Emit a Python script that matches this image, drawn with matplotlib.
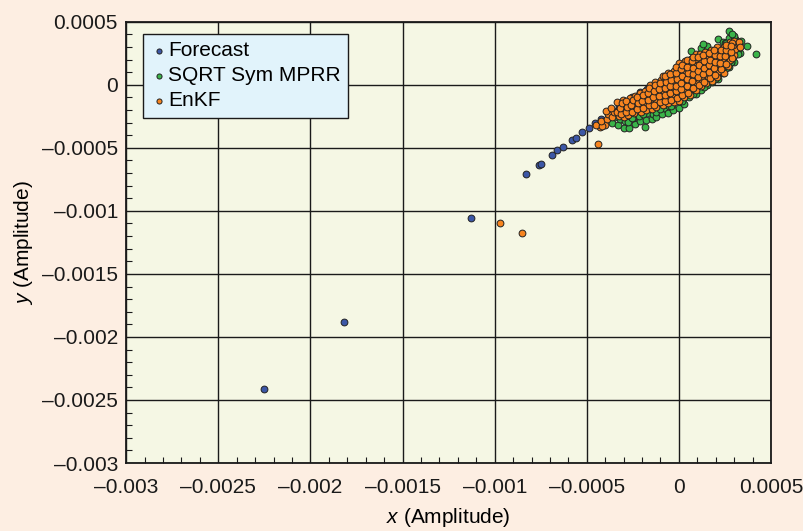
import numpy as np
import matplotlib
matplotlib.use("Agg")
import matplotlib.pyplot as plt
from matplotlib.ticker import MultipleLocator, FuncFormatter

plt.rcParams['font.family'] = ['Liberation Sans', 'DejaVu Sans']
plt.rcParams['mathtext.fontset'] = 'custom'
plt.rcParams['mathtext.it'] = 'Liberation Sans:italic'
plt.rcParams['mathtext.rm'] = 'Liberation Sans'

# all values in units of 1e-4 (amplitude)
forecast_x = [-22.5, -18.2, -11.3, -8.3, -7.6, -7.5, -6.9, -6.6, -6.3, -5.8, -5.6, -5.25,
              -4.9, -4.55, -4.25, -3.8, -3.55, -3.25, -2.55, -2.1, -1.75, -1.5, -0.8, 0.0, 0.7, 1.5]
forecast_y = [-24.1, -18.8, -10.6, -7.1, -6.35, -6.25, -5.55, -5.2, -4.9, -4.4, -4.2, -3.75,
              -3.4, -3.05, -2.7, -2.3, -2.05, -1.7, -1.0, -0.55, -0.3, -0.9, -0.4, 0.1, 0.7, 1.2]

sqrt_x = [-3.62, -3.47, -3.28, -3.22, -2.97, -2.93, -3.07, -2.70, -2.78, -2.63, -2.41, -2.47,
          -2.33, -2.12, -2.17, -2.04, -1.83, -1.78, -1.74, -1.86, -1.48, -1.43, -1.57, -1.22,
          -1.26, -1.13, -0.92, -0.83, -0.97, -0.60, -0.54, -0.67, -0.31, -0.36, -0.23, -0.02,
          0.06, -0.05, 0.30, 0.24, 0.36, 0.56, 0.66, 0.58, 0.91, 0.96, 0.84, 1.21, 1.14, 1.27,
          1.20, 1.52, 1.44, 1.57, 1.50, 1.80, 1.87, 1.74, 2.10, 2.16, 2.03, 2.10, 2.40, 2.46,
          2.33, 2.40, 2.70, 2.77, 2.64, 2.70, 3.00, 2.94, 3.06, 3.00, 3.30, 3.24, 3.36, 3.69,
          4.18, 2.70, 2.89, 1.32, 0.63, 0.33, 2.50, 2.81, 2.84, 3.18, 2.53,
          -1.05, -0.45, 0.15, 0.75, 1.35, 1.95, 2.55, -2.55, -1.95]
sqrt_y = [-3.05, -2.52, -3.18, -2.74, -3.39, -2.86, -2.42, -3.39, -2.93, -2.44, -3.08, -2.62,
          -2.16, -2.88, -2.47, -2.04, -3.33, -2.83, -2.27, -1.84, -2.72, -2.28, -1.83, -2.58,
          -2.13, -1.62, -2.33, -1.87, -1.43, -2.20, -1.72, -1.24, -2.03, -1.52, -1.04, -1.82,
          -1.27, -0.83, -1.52, -1.03, -0.54, -0.93, -0.68, -0.22, -0.72, -0.27, 0.18, -0.43, 0.04,
          0.48, 2.90, -0.02, 0.42, 0.88, 3.10, 0.22, 0.68, 1.23, 0.48, 0.93, 1.37, 3.60, 0.92,
          1.28, 1.83, 3.40, 1.42, 1.78, 2.23, 3.70, 1.80, 2.24, 3.60, 3.90, 2.50, 2.92, 3.50,
          3.07, 2.48, 4.26, 4.02, 3.25, 2.72, 1.80, 3.30, 1.80, 1.77, 2.48, 3.28,
          -1.95, -1.65, -1.25, -0.75, -0.2, 0.45, 1.3, -2.65, -2.3]

enkf_x = [-9.7, -8.5, -4.4, -4.27, -4.0,
          -4.52, -4.18, -4.24, -3.93, -3.84, -3.97, -3.62, -3.55, -3.68,
          -3.27, -3.38, -3.22, -3.34, -2.96, -3.08, -2.93, -3.02,
          -2.74, -2.62, -2.78, -2.66, -2.43, -2.32, -2.47, -2.38,
          -2.06, -2.18, -2.03, -2.12, -1.78, -1.88, -1.72, -1.83,
          -1.47, -1.56, -1.44, -1.52, -1.58, -1.22, -1.27, -1.13, -1.18, -1.29,
          -0.88, -0.97, -0.83, -0.92, -0.96, -0.84, -0.61, -0.67, -0.53, -0.62, -0.66, -0.57,
          -0.27, -0.36, -0.24, -0.33, -0.37, -0.26,
          0.02, 0.06, -0.04, 0.01, 0.07, -0.06, 0.03, 0.28, 0.36, 0.24, 0.31, 0.37, 0.22, 0.33,
          0.62, 0.66, 0.54, 0.58, 0.67, 0.56, 0.63, 0.91, 0.96, 0.84, 0.93, 0.97, 0.86, 0.90,
          1.22, 1.26, 1.14, 1.19, 1.27, 1.16, 1.48, 1.56, 1.43, 1.52, 1.57, 1.44,
          1.82, 1.86, 1.74, 1.79, 1.87, 1.76, 2.08, 2.16, 2.04, 2.13, 2.17, 2.06,
          2.42, 2.46, 2.34, 2.39, 2.47, 2.68, 2.76, 2.64, 2.73, 2.77,
          2.97, 3.04, 2.94, 3.00, 3.26, 3.31, 2.89,
          -3.13, -3.18, -3.11, -2.87, -2.82, -2.89, -2.53, -2.58, -2.51,
          -2.27, -2.22, -2.26, -1.93, -1.98, -1.96, -1.63, -1.68, -1.66, -1.62,
          -1.33, -1.38, -1.36, -1.32, -1.03, -1.08, -1.06, -1.02,
          -0.73, -0.78, -0.76, -0.72, -0.77, -0.43, -0.48, -0.46, -0.42, -0.47,
          -0.13, -0.18, -0.16, -0.12, -0.17, -0.14, 0.17, 0.12, 0.14, 0.18, 0.13, 0.16,
          0.47, 0.42, 0.44, 0.48, 0.43, 0.46, 0.77, 0.72, 0.74, 0.78, 0.73, 0.76,
          1.07, 1.02, 1.04, 1.08, 1.03, 1.37, 1.32, 1.34, 1.38, 1.33,
          1.67, 1.62, 1.64, 1.68, 1.63, 1.97, 1.92, 1.94, 1.98, 1.93,
          2.27, 2.22, 2.24, 2.28, 2.57, 2.52, 2.54, 2.58, 2.87, 2.82, 2.84]
enkf_y = [-11.0, -11.75, -4.7, -3.33, -3.17,
          -3.15, -3.25, -2.85, -2.72, -2.35, -2.05, -2.55, -2.18, -1.85,
          -2.45, -2.12, -1.62, -1.36, -2.58, -1.94, -1.65, -1.18,
          -2.36, -1.95, -1.42, -1.04, -2.27, -1.75, -1.36, -0.85,
          -2.15, -1.58, -1.14, -0.63, -1.96, -1.53, -0.96, -0.47,
          -1.88, -1.37, -0.94, -0.36, 0.02, -1.74, -1.16, -0.72, -0.25, 0.22,
          -1.63, -1.06, -0.64, -0.08, 0.38, 0.70, -1.45, -1.04, -0.46, 0.04, 0.47, 0.93,
          -1.38, -0.86, -0.43, 0.13, 0.58, 1.08,
          -1.26, -0.83, -0.27, 0.24, 0.68, 1.23, 1.72, -0.97, -0.54, 0.04, 0.47, 1.03, 1.46, 1.88,
          -0.77, -0.33, 0.23, 0.66, 1.17, 1.73, 2.08, -0.43, 0.13, 0.57, 1.12, 1.58, 2.06, 2.43,
          -0.08, 0.37, 0.93, 1.38, 1.87, 2.42, 0.12, 0.63, 1.08, 1.62, 2.07, 2.58,
          0.27, 0.83, 1.27, 1.83, 2.27, 2.77, 0.62, 1.07, 1.63, 2.08, 2.63, 2.97,
          0.97, 1.53, 1.98, 2.52, 2.96, 1.52, 1.97, 2.53, 2.96, 3.38,
          2.36, 2.82, 3.18, 3.46, 3.36, 2.98, 3.31,
          -2.32, -1.83, -1.47, -2.18, -1.77, -1.28, -2.12, -1.58, -1.17,
          -1.93, -1.42, -0.93, -1.82, -1.28, -0.82, -1.63, -1.17, -0.68, -0.27,
          -1.57, -0.98, -0.52, -0.03, -1.38, -0.92, -0.33, 0.12,
          -1.32, -0.78, -0.28, 0.23, 0.72, -1.18, -0.67, -0.13, 0.37, 0.83,
          -1.07, -0.53, -0.07, 0.47, 0.93, 1.38, -0.83, -0.37, 0.17, 0.68, 1.27, 1.58,
          -0.62, -0.08, 0.43, 0.97, 1.43, 1.93, -0.28, 0.33, 0.87, 1.33, 1.87, 2.23,
          0.02, 0.58, 1.12, 1.58, 2.22, 0.23, 0.82, 1.33, 1.87, 2.33,
          0.52, 1.03, 1.57, 1.98, 2.52, 0.78, 1.32, 1.83, 2.37, 2.78,
          1.22, 1.73, 2.32, 2.78, 1.68, 2.27, 2.73, 3.17, 2.12, 2.63, 3.07]

scale = 1e-4
fig = plt.figure(figsize=(8.04, 5.31), dpi=100, facecolor='#fdeee2')
ax = fig.add_axes([0.157, 0.128, 0.802, 0.831])
ax.set_facecolor('#f5f7e4')

kw = dict(s=24, edgecolors='#222222', linewidths=0.7, zorder=3)
ax.scatter(np.array(forecast_x) * scale, np.array(forecast_y) * scale, c='#3c57a6', label='Forecast', **kw)
ax.scatter(np.array(sqrt_x) * scale, np.array(sqrt_y) * scale, c='#3bb44a', label='SQRT Sym MPRR', **kw)
ax.scatter(np.array(enkf_x) * scale, np.array(enkf_y) * scale, c='#f7841f', label='EnKF', **kw)

ax.set_xlim(-0.003, 0.0005)
ax.set_ylim(-0.003, 0.0005)
ax.xaxis.set_major_locator(MultipleLocator(0.0005))
ax.yaxis.set_major_locator(MultipleLocator(0.0005))
ax.xaxis.set_minor_locator(MultipleLocator(0.0001))
ax.yaxis.set_minor_locator(MultipleLocator(0.0001))

def fmt(v, pos):
    if abs(v) < 1e-12:
        return '0'
    s = ('%.4f' % v).rstrip('0')
    return s.replace('-', '\u2013')

ax.xaxis.set_major_formatter(FuncFormatter(fmt))
ax.yaxis.set_major_formatter(FuncFormatter(fmt))

ax.grid(True, which='major', color='#1a1a1a', linewidth=1.0, zorder=1)
ax.set_axisbelow(True)
ax.tick_params(which='both', direction='in', labelsize=15, colors='#1a1a1a')
ax.tick_params(which='major', length=0)
ax.tick_params(axis='x', which='major', pad=11)
ax.tick_params(axis='y', which='major', pad=6)
ax.tick_params(which='minor', length=4, width=0.8)
for sp in ax.spines.values():
    sp.set_linewidth(1.3)
    sp.set_color('#1a1a1a')

ax.set_xlabel('$x$ (Amplitude)', fontsize=15, labelpad=6)
ax.set_ylabel('$y$ (Amplitude)', fontsize=15, labelpad=5)

leg = ax.legend(loc='upper left', bbox_to_anchor=(0.026, 0.973), fontsize=15, frameon=True,
                fancybox=False, markerscale=0.75, handletextpad=0.05, handlelength=0.8,
                borderpad=0.35, labelspacing=0.3, borderaxespad=0)
leg.get_frame().set_facecolor('#e1f3fb')
leg.get_frame().set_edgecolor('#1a1a1a')
leg.get_frame().set_alpha(1)
leg.get_frame().set_linewidth(1.0)

fig.savefig('out.png', dpi=100, facecolor=fig.get_facecolor())
